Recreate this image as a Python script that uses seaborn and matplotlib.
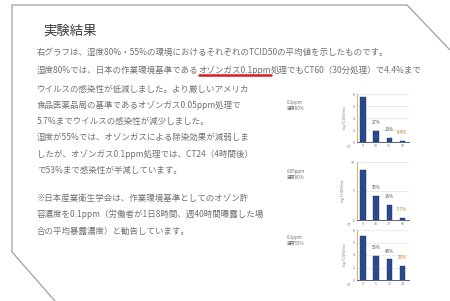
import matplotlib
matplotlib.use("Agg")
import matplotlib.pyplot as plt
from matplotlib.lines import Line2D
import pandas as pd
import seaborn as sns

TITLE = "実験結果"
BODY_LINES = [
    "右グラフは、湿度80%・55%の環境におけるそれぞれのTCID50の平均値を示したものです。",
    "湿度80%では、日本の作業環境基準である|オゾンガス0.1ppm|処理でもCT60（30分処理）で4.4%まで",
    "ウイルスの感染性が低減しました。より厳しいアメリカ",
    "食品医薬品局の基準であるオゾンガス0.05ppm処理で",
    "5.7%までウイルスの感染性が減少しました。",
    "湿度が55%では、オゾンガスによる除染効果が減弱しま",
    "したが、オゾンガス0.1ppm処理では、CT24（4時間後）",
    "で53%まで感染性が半減しています。",
    "",
    "※日本産業衛生学会は、作業環境基準としてのオゾン許",
    "容濃度を0.1ppm（労働者が1日8時間、週40時間曝露した場",
    "合の平均暴露濃度）と勧告しています。",
]
LINE_Y_PX = [52, 70, 89, 105, 121, 137, 154, 170, 184, 198, 214, 231]

conditions = ["0.1ppm\n湿度80%", "0.05ppm\n湿度80%", "0.1ppm\n湿度55%"]
ct_labels = [["0", "10", "30", "60"], ["0", "15", "30", "60"], ["0", "6", "12", "24"]]
titer_values = [[7.5, 1.9, 0.7, 0.2], [8.6, 4.1, 2.6, 0.35], [7.0, 3.8, 3.3, 2.3]]
pct_labels = [["", "27%", "13%", "4.4%"], ["", "35%", "16%", "5.7%"], ["", "55%", "46%", "53%"]]
y_ticks = [[0, 2, 4, 6, 8], [0, 5, 10], [0, 2, 4, 6, 8]]
y_label = "log TCID50/mL"

W, H = 450, 301
sns.set_theme(style="whitegrid")
plt.rcParams["font.family"] = ["Noto Sans CJK JP", "DejaVu Sans"]

fig = plt.figure(figsize=(W / 100, H / 100), dpi=100, facecolor="white")


def fx(px):
    return px / W


def fy(py):
    return 1 - py / H


# document frame
frame_x = [407, 12, 12, 55]
frame_y = [5, 5, 252, 301]
fig.add_artist(Line2D([fx(v) for v in frame_x], [fy(v) for v in frame_y], color="#a0a0a0", lw=0.9))
fig.add_artist(Line2D([fx(407), fx(450)], [fy(5), fy(50)], color="#a0a0a0", lw=0.9))

fig.text(fx(43), fy(31), TITLE, fontsize=9.6, color="#3a3a3a", va="center")

renderer = fig.canvas.get_renderer()
for line, ypx in zip(BODY_LINES, LINE_Y_PX):
    x = fx(37)
    for i, part in enumerate(line.split("|")):
        if not part:
            continue
        t = fig.text(x, fy(ypx), part, fontsize=6.1, color="#707070", va="center")
        bb = t.get_window_extent(renderer)
        if i == 1:
            fig.add_artist(Line2D([bb.x0 / W, bb.x1 / W], [fy(ypx + 5), fy(ypx + 5)],
                                  color="#d81e1e", lw=1.8))
        x = bb.x1 / W

axes_px = [(357, 409, 94, 142), (357, 409, 162, 220), (357, 409, 230, 280)]
label_y = [105, 174, 240]

for k in range(3):
    left, right, top, bottom = axes_px[k]
    ax = fig.add_axes([fx(left), fy(bottom), fx(right - left), (bottom - top) / H])
    df = pd.DataFrame({"ct": ct_labels[k], "titer": titer_values[k]})
    sns.barplot(data=df, x="ct", y="titer", color="#2a4a8c", width=0.4, ax=ax,
                saturation=1, edgecolor="#1d3566", linewidth=0.3)
    ax.set_xlim(-0.45, 3.5)
    ax.set_ylim(0, y_ticks[k][-1])
    ax.set_yticks(y_ticks[k])
    ax.tick_params(labelsize=2.6, length=0, pad=1.5, colors="#777777")
    ax.set_xlabel("")
    ax.set_ylabel(y_label, fontsize=2.4, color="#777777", labelpad=4)
    ax.grid(axis="y", color="#dddddd", lw=0.4)
    ax.grid(axis="x", visible=False)
    for side in ["top", "right"]:
        ax.spines[side].set_visible(False)
    ax.spines["left"].set_color("#e0a040")
    ax.spines["left"].set_linewidth(0.6)
    ax.spines["bottom"].set_color("#3a4a6a")
    ax.spines["bottom"].set_linewidth(0.6)
    ax.annotate("CT", (0, 0), xycoords="axes fraction", xytext=(-4, -3.3),
                textcoords="offset points", fontsize=2.6, color="#777777", ha="right", va="center")
    for j, (v, lab) in enumerate(zip(titer_values[k], pct_labels[k])):
        if lab:
            ax.annotate(lab, (j, v), xytext=(0, 6), textcoords="offset points", ha="center",
                        va="center", fontsize=3.2,
                        color="#c07a20" if j == 3 else "#555555")
    fig.text(fx(287), fy(label_y[k]), conditions[k], fontsize=3.2, color="#707070",
             va="center", linespacing=1.2)

fig.savefig("out.png", dpi=100, facecolor="white")
